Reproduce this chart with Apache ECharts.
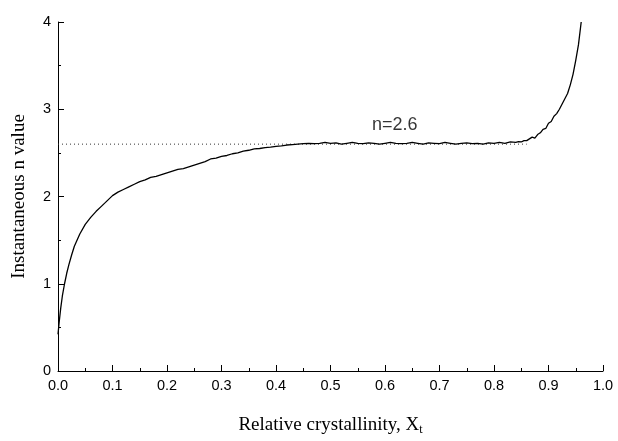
<!DOCTYPE html>
<html>
<head>
<meta charset="utf-8">
<script src="https://cdn.jsdelivr.net/npm/echarts@6/dist/echarts.min.js"></script>
<style>html,body{margin:0;padding:0;background:#fff}#c{width:618px;height:441px}</style>
</head>
<body>
<div id="c"></div>
<script>
const xTicks = [0.0,0.1,0.2,0.3,0.4,0.5,0.6,0.7,0.8,0.9,1.0];
const yTicks = [0,1,2,3,4];
const xs = [0,0.002,0.005,0.008,0.012,0.016,0.02,0.025,0.03,0.04,0.05,0.06,0.07,0.08,0.09,0.10,0.11,0.12,0.13,0.14,0.15,0.16,0.17,0.18,0.19,0.20,0.21,0.22,0.23,0.24,0.25,0.26,0.27,0.28,0.29,0.30,0.31,0.32,0.33,0.34,0.35,0.36,0.37,0.38,0.39,0.40,0.41,0.42,0.43,0.44,0.45,0.46,0.47,0.48,0.49,0.50,0.51,0.52,0.53,0.54,0.55,0.56,0.57,0.58,0.59,0.60,0.61,0.62,0.63,0.64,0.65,0.66,0.67,0.68,0.69,0.70,0.71,0.72,0.73,0.74,0.75,0.76,0.77,0.78,0.79,0.80,0.81,0.82,0.83,0.84,0.845,0.85,0.855,0.86,0.865,0.87,0.875,0.88,0.885,0.89,0.895,0.90,0.905,0.91,0.915,0.92,0.925,0.93,0.935,0.94,0.945,0.95,0.955,0.96];
const ys = [0.42,0.55,0.72,0.86,1.0,1.12,1.22,1.33,1.43,1.57,1.68,1.76,1.83,1.89,1.95,2.01,2.05,2.08,2.11,2.14,2.17,2.19,2.22,2.23,2.25,2.27,2.29,2.31,2.32,2.34,2.36,2.38,2.40,2.43,2.44,2.46,2.47,2.49,2.50,2.52,2.53,2.545,2.55,2.56,2.565,2.575,2.58,2.59,2.595,2.60,2.605,2.61,2.605,2.61,2.62,2.61,2.615,2.60,2.61,2.62,2.61,2.605,2.615,2.61,2.60,2.61,2.62,2.61,2.605,2.61,2.62,2.61,2.60,2.615,2.61,2.605,2.62,2.61,2.60,2.61,2.615,2.605,2.61,2.60,2.615,2.61,2.62,2.61,2.625,2.62,2.63,2.625,2.64,2.64,2.66,2.68,2.67,2.71,2.73,2.77,2.78,2.84,2.86,2.92,2.95,3.00,3.06,3.12,3.18,3.28,3.40,3.56,3.74,4.0];
const refLevel = 2.6;
const refEnd = 0.86;
const labelPos = [0.618, 2.82];

const curve = xs.map((x, i) => [x, ys[i]]);
const chart = echarts.init(document.getElementById('c'), null, {renderer: 'canvas'});
chart.setOption({
  animation: false,
  backgroundColor: '#fff',
  grid: {left: 58, right: 15, top: 22, bottom: 65, containLabel: false},
  xAxis: {
    type: 'value', min: 0, max: 1, interval: 0.1,
    name: '{a|Relative crystallinity, X}{s|t}',
    nameLocation: 'middle', nameGap: 44,
    nameTextStyle: {rich: {
      a: {fontFamily: 'Liberation Serif', fontSize: 19, color: '#000'},
      s: {fontFamily: 'Liberation Serif', fontSize: 12, color: '#000', verticalAlign: 'bottom', padding: [9,0,0,0]}
    }},
    axisLine: {lineStyle: {color: '#000', width: 1}},
    axisTick: {inside: true, length: 6, lineStyle: {color: '#000'}},
    minorTick: {show: true, splitNumber: 2, length: 3, lineStyle: {color: '#000'}},
    splitLine: {show: false},
    axisLabel: {color: '#000', fontFamily: 'Liberation Sans', fontSize: 14.5, margin: 7,
      formatter: v => v.toFixed(1)}
  },
  yAxis: {
    type: 'value', min: 0, max: 4, interval: 1,
    name: 'Instantaneous n value', nameLocation: 'middle', nameGap: 29,
    nameTextStyle: {fontFamily: 'Liberation Serif', fontSize: 19, color: '#000'},
    axisLine: {show: true, lineStyle: {color: '#000', width: 1}},
    axisTick: {show: true, inside: true, length: 6, lineStyle: {color: '#000'}},
    minorTick: {show: true, splitNumber: 2, length: 3, lineStyle: {color: '#000'}},
    splitLine: {show: false},
    axisLabel: {color: '#000', fontFamily: 'Liberation Sans', fontSize: 14.5, margin: 7,
      formatter: v => String(v)}
  },
  series: [
    {type: 'line', data: [[0, refLevel], [refEnd, refLevel]], symbol: 'none',
     lineStyle: {color: '#333', width: 1, type: [1, 3]}, z: 1},
    {type: 'line', data: curve, symbol: 'none',
     lineStyle: {color: '#000', width: 1.3}, z: 2},
    {type: 'scatter', data: [labelPos], symbolSize: 0,
     label: {show: true, position: 'inside', formatter: 'n=2.6', color: '#000',
       fontFamily: 'Liberation Sans', fontSize: 18}, z: 3}
  ]
});
</script>
</body>
</html>
